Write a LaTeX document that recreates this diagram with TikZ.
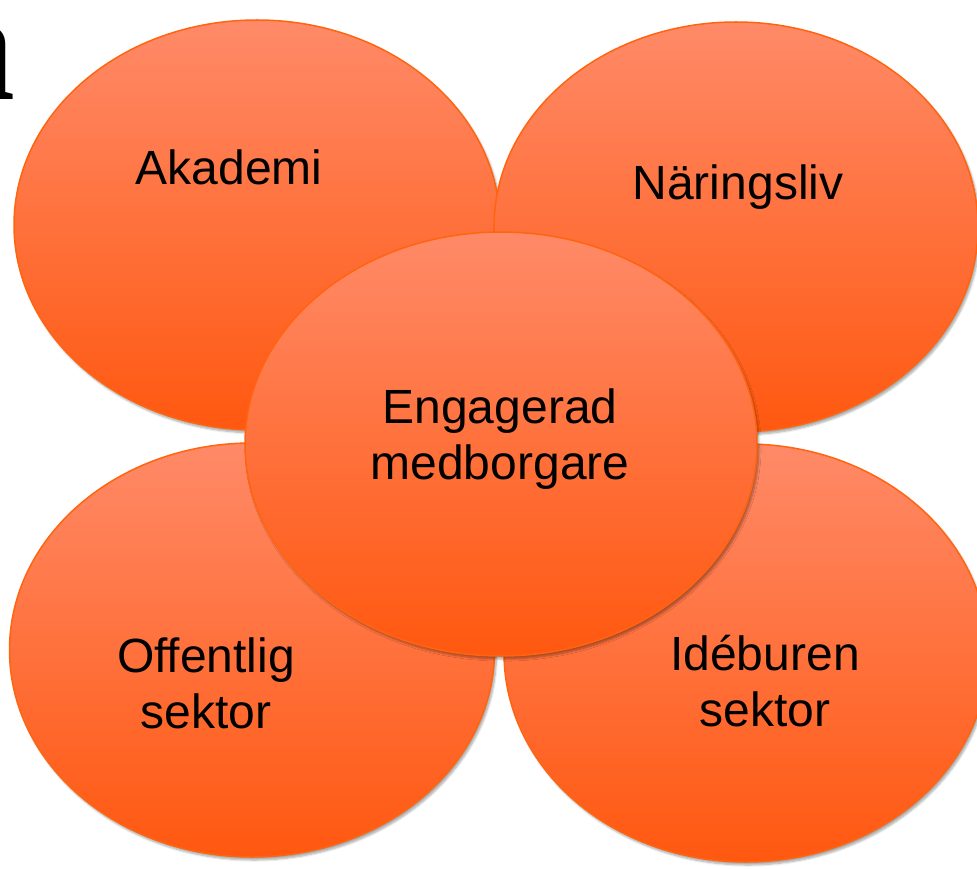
\documentclass[tikz,border=0pt]{standalone}
\usepackage{fontspec}
\setmainfont{Liberation Sans}
\newfontfamily\serifa{Liberation Serif}
\usetikzlibrary{shapes.geometric,shadows.blur}
\definecolor{topc}{RGB}{255,138,104}
\definecolor{botc}{RGB}{255,88,16}
\definecolor{edgec}{RGB}{255,100,15}
\tikzset{
  blob/.style={ellipse, draw=edgec, line width=1.5pt, top color=topc, bottom color=botc,
    inner sep=0pt, blur shadow={shadow xshift=2pt, shadow yshift=-3pt, shadow blur steps=6, shadow opacity=35}},
  lbl/.style={font=\fontsize{48}{56}\selectfont, align=center, text=black, inner sep=0pt}
}
\begin{document}
\begin{tikzpicture}[x=1pt,y=-1pt]
\useasboundingbox (0,0) rectangle (977,869);
\clip (0,0) rectangle (977,869);
\node[anchor=base east, inner sep=0pt, font=\serifa\bfseries\fontsize{160}{160}\selectfont] (lettera) at (16,100) {a};
\node[blob, minimum width=486pt, minimum height=410pt] (akademi) at (257,225) {};
\node[blob, minimum width=484pt, minimum height=410pt] (naring) at (736,227) {};
\node[blob, minimum width=485pt, minimum height=414pt] (offentlig) at (252,650) {};
\node[blob, minimum width=484pt, minimum height=418pt] (ideburen) at (746,653) {};
\node[blob, minimum width=512pt, minimum height=424pt] (center) at (501,444) {};
\node[lbl] (takademi) at (229,167) {Akademi};
\node[lbl] (tnaring) at (738,187) {Näringsliv};
\node[lbl] (tcenter) at (500,439) {Engagerad\\medborgare};
\node[lbl] (toffentlig) at (206,683) {Offentlig\\sektor};
\node[lbl] (tideburen) at (765,681) {Idéburen\\sektor};
\end{tikzpicture}
\end{document}
